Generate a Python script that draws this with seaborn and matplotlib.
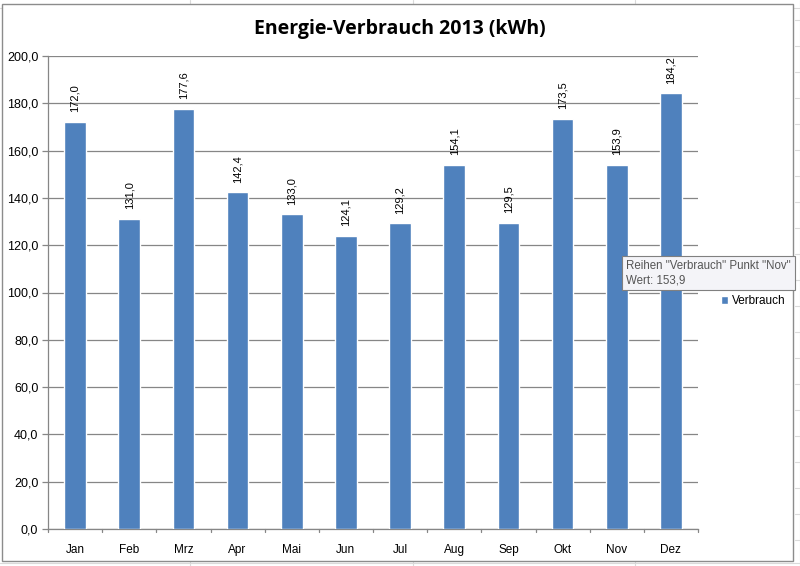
import matplotlib
matplotlib.use("Agg")
import matplotlib.pyplot as plt
import seaborn as sns
import pandas as pd
from matplotlib.patches import Rectangle, Patch

months = ["Jan", "Feb", "Mrz", "Apr", "Mai", "Jun", "Jul", "Aug", "Sep", "Okt", "Nov", "Dez"]
verbrauch = [172.0, 131.0, 177.6, 142.4, 133.0, 124.1, 129.2, 154.1, 129.5, 173.5, 153.9, 184.2]
yticks = [0, 20, 40, 60, 80, 100, 120, 140, 160, 180, 200]
title = "Energie-Verbrauch 2013 (kWh)"
series_name = "Verbrauch"
tooltip = "Reihen \"Verbrauch\" Punkt \"Nov\"\nWert: 153,9"

sns.set_theme(style="white")
plt.rcParams['font.family'] = ['Liberation Sans', 'DejaVu Sans']
plt.rcParams['text.color'] = 'black'
plt.rcParams['xtick.color'] = 'black'
plt.rcParams['ytick.color'] = 'black'

df = pd.DataFrame({"Monat": months, "Wert": verbrauch})

fig = plt.figure(figsize=(8.0, 5.66), dpi=100)
fig.patch.set_facecolor("white")

# faint spreadsheet grid outside chart
for xx in [0.238, 0.516, 0.794, 1.0]:
    fig.add_artist(plt.Line2D([xx, xx], [0, 1], color="#dadada", lw=0.8, zorder=-3))
for yy in [1 - 8 / 566, 1 - 563 / 566]:
    fig.add_artist(plt.Line2D([0, 1], [yy, yy], color="#dadada", lw=0.8, zorder=-3))
for yy_px in range(20, 566, 26):
    yy = 1 - yy_px / 566
    fig.add_artist(plt.Line2D([795 / 800, 1], [yy, yy], color="#dadada", lw=0.8, zorder=-3))

# chart border
fig.add_artist(Rectangle((2 / 800, 1 - 561 / 566), 791 / 800, 557 / 566,
                         transform=fig.transFigure, facecolor="white",
                         edgecolor="#8c8c8c", lw=1.0, zorder=-2))

ax = fig.add_axes([48 / 800, 1 - 529 / 566, 650 / 800, 473 / 566])
ax.set_facecolor("none")
sns.barplot(data=df, x="Monat", y="Wert", color="#4F81BD", width=0.40,
            saturation=1, ax=ax, zorder=3)

ax.set_ylim(0, 200)
ax.set_xlim(-0.5, 11.5)
ax.set_yticks(yticks)
ax.set_yticklabels([f"{v:.1f}".replace(".", ",") for v in yticks], fontsize=9)
ax.yaxis.grid(True, color="#868686", lw=0.9, zorder=0)
ax.set_axisbelow(True)
ax.set_xlabel("")
ax.set_ylabel("")
ax.tick_params(axis="x", length=0, labelsize=8.5, pad=11)
ax.tick_params(axis="y", length=4, width=0.9, color="#868686", direction="out", pad=3, left=True)
for x in [i - 0.5 for i in range(13)]:
    ax.plot([x, x], [0, -1.2], color="#868686", lw=0.9, clip_on=False)
for s in ["top", "right"]:
    ax.spines[s].set_visible(False)
for s in ["left", "bottom"]:
    ax.spines[s].set_color("#868686")
    ax.spines[s].set_linewidth(0.9)

labels = [f"{v:.1f}".replace(".", ",") for v in verbrauch]
ax.bar_label(ax.containers[0], labels=labels, rotation=90, padding=7, fontsize=8)

fig.text(400 / 800, 1 - 29 / 566, title, ha="center", va="center",
         fontsize=14, fontweight="bold", family=["Open Sans", "DejaVu Sans"])

ax.legend(handles=[Patch(facecolor="#4F81BD", label=series_name)],
          loc="center left", bbox_to_anchor=(710 / 800, 1 - 301 / 566),
          bbox_transform=fig.transFigure, frameon=False, fontsize=8.5,
          handlelength=0.6, handleheight=0.6, handletextpad=0.4)

fig.text(626 / 800, 1 - 273 / 566, tooltip, ha="left", va="center", fontsize=8.3,
         color="#555555", linespacing=1.3, zorder=10,
         bbox=dict(boxstyle="square,pad=0.35", facecolor="#f4f4f8", edgecolor="#808080", lw=0.8))

fig.savefig("out.png", dpi=100)
